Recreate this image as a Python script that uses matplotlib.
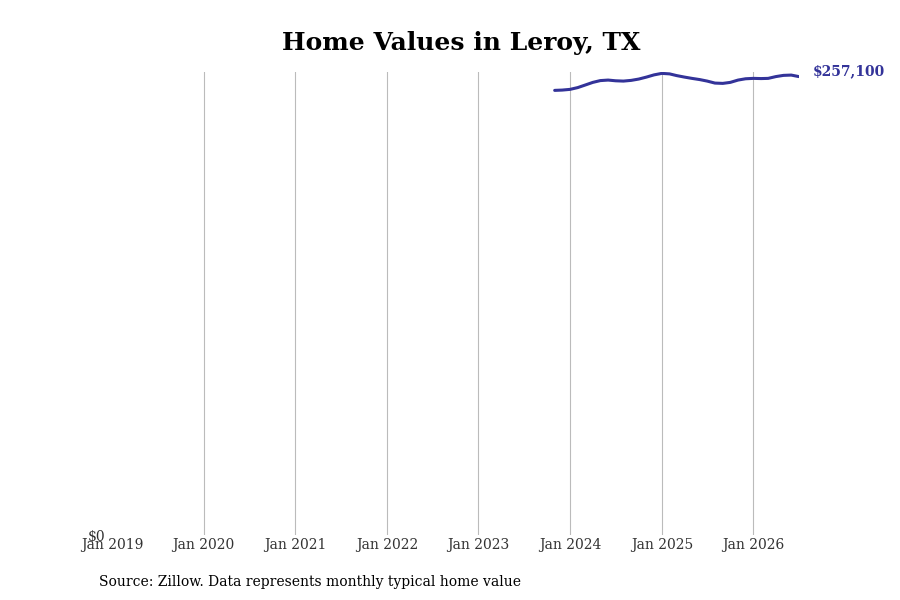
import numpy as np
import pandas as pd
import matplotlib
matplotlib.use('Agg')
import matplotlib.pyplot as plt

# Monthly typical home values
months = pd.date_range('2023-11-01', '2026-07-01', freq='MS')
values = [249360, 249530, 249920, 250930, 252330, 253840, 254850, 255140,
          254740, 254570, 254970, 255700, 256820, 258050, 258890, 258610,
          257660, 256820, 256090, 255420, 254570, 253450, 253280, 253840,
          255140, 255870, 256090, 255980, 256090, 257100, 257770, 257940,
          257100]
tick_years = list(range(2019, 2027))
tick_labels = ['Jan %d' % y for y in tick_years]
last_label = '$257,100'

line_color = '#333399'

plt.rcParams['font.family'] = ['DejaVu Serif']

fig = plt.figure(figsize=(9, 6), dpi=100)
ax = fig.add_axes([0.1244, 0.1083, 0.7631, 0.7717])

ax.plot(months, values, color=line_color, lw=2.2, solid_capstyle='round')

ax.set_xlim(pd.Timestamp('2019-01-01'), months[-1])
ax.set_ylim(0, max(values) * 1.003)

ax.set_xticks([pd.Timestamp('%d-01-01' % y) for y in tick_years])
ax.set_xticklabels(tick_labels, fontsize=10, color='#333333')
ax.set_yticks([0])
ax.set_yticklabels(['$0'], fontsize=10, color='#333333')
ax.tick_params(axis='both', length=0)
ax.tick_params(axis='x', pad=2)
ax.tick_params(axis='y', pad=5)

# vertical gridlines only, none at the left edge
for d in tick_years[1:]:
    ax.axvline(pd.Timestamp('%d-01-01' % d), color='#bbbbbb', lw=0.8, zorder=0)
for s in ax.spines.values():
    s.set_visible(False)

ax.annotate(last_label, xy=(months[-1], values[-1]), xytext=(10, 4),
            textcoords='offset points', color=line_color, fontsize=10,
            fontweight='bold', va='center', ha='left', annotation_clip=False)

fig.suptitle('Home Values in Leroy, TX', x=0.512, y=0.948, fontsize=18,
             fontweight='bold')
fig.text(0.11, 0.03, 'Source: Zillow. Data represents monthly typical home value',
         fontsize=10, ha='left', va='center')

fig.savefig('out.png', dpi=100)
